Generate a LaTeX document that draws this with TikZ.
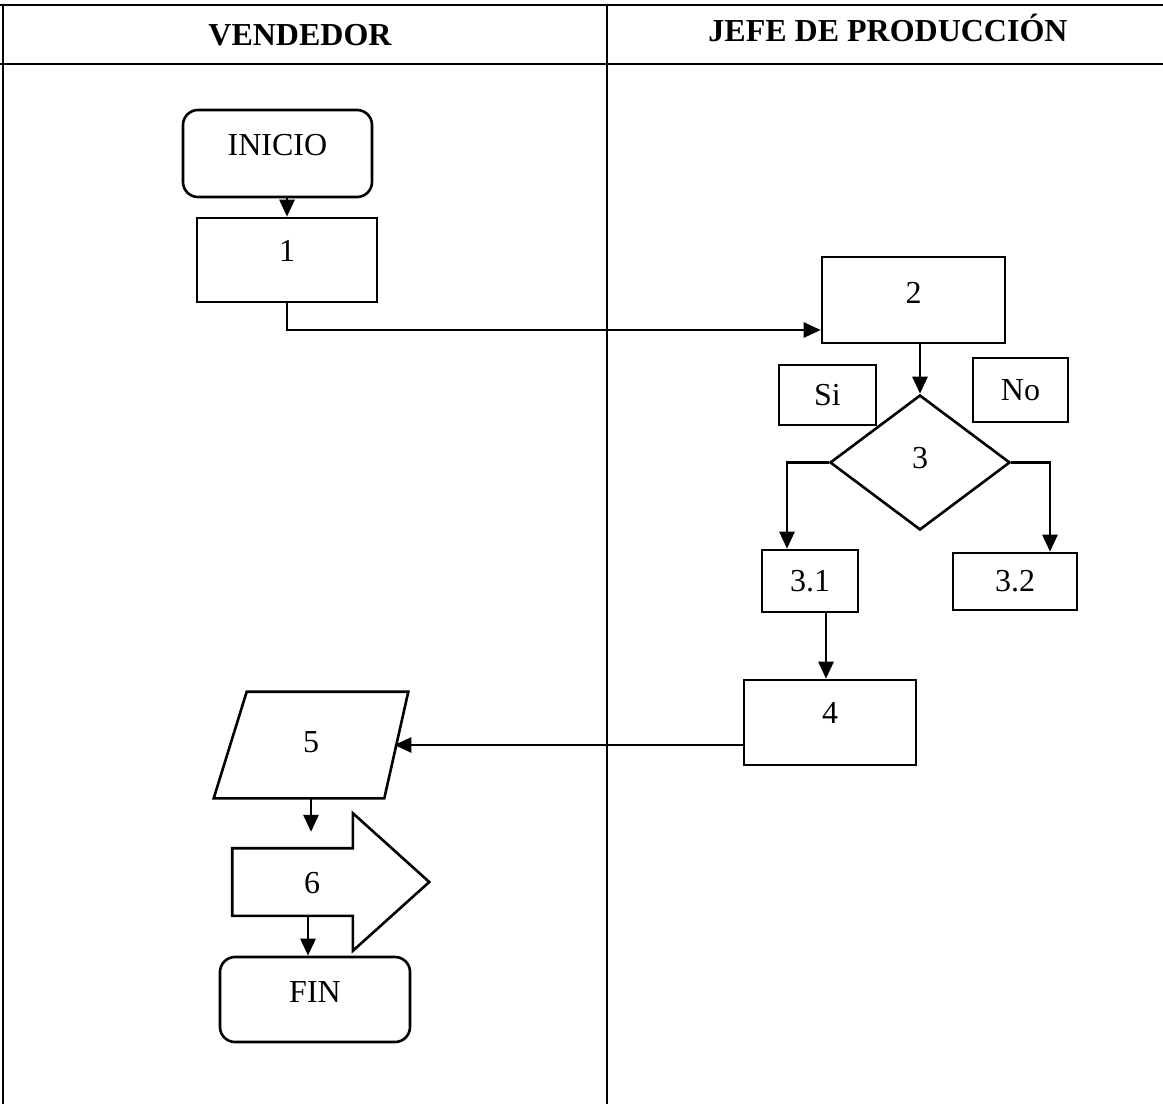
\documentclass[tikz,border=0pt]{standalone}
\usepackage{fontspec}
\setmainfont{Liberation Serif}
\usetikzlibrary{shapes.geometric, shapes.arrows, arrows.meta}

\tikzset{
  caja/.style={draw, rectangle, inner sep=0pt},
  redonda/.style={draw, rectangle, rounded corners=7.5pt, inner sep=0pt},
  flecha/.style={-{Triangle[width=7.5pt,length=8.5pt]}}
}

\begin{document}
\begin{tikzpicture}[x=0.5pt, y=-0.5pt, line width=1.3pt,
    every node/.style={font=\fontsize{16}{19}\selectfont}]

    % Marco del dibujo
    \useasboundingbox (0,0) rectangle (1163,1104);
    \draw (0,5) -- (1163,5);
    \draw (0,64) -- (1163,64);
    \draw (3,5) -- (3,1104);
    \draw (607,5) -- (607,1104);

    % Encabezados
    \node[font=\fontsize{16}{19}\selectfont\bfseries] (vend) at (300,35) {VENDEDOR};
    \node[font=\fontsize{16}{19}\selectfont\bfseries] (jefe) at (888,28) {JEFE DE PRODUCCIÓN};

    % Columna del vendedor
    \node[redonda, minimum width=94.5pt, minimum height=43.5pt, text depth=8.5pt] (inicio) at (277.5,153.5) {INICIO};
    \node[caja, minimum width=90pt, minimum height=42pt, text depth=9pt] (p1) at (287,260) {1};

    % Columna del jefe de produccion
    \node[caja, minimum width=91.5pt, minimum height=43pt, text depth=7pt] (p2) at (913.5,300) {2};
    \node[draw, diamond, inner sep=0pt, minimum width=90pt, minimum height=67.5pt, text depth=5pt] (p3) at (920,462.5) {3};
    \node[caja, minimum width=48.5pt, minimum height=30pt] (si) at (827.5,395) {Si};
    \node[caja, minimum width=47.5pt, minimum height=32pt] (no) at (1020.5,390) {No};
    \node[caja, minimum width=48pt, minimum height=31pt] (p31) at (810,581) {3.1};
    \node[caja, minimum width=62pt, minimum height=28.5pt] (p32) at (1015,581.5) {3.2};
    \node[caja, minimum width=86pt, minimum height=42.5pt, text depth=10pt] (p4) at (830,722.5) {4};

    % Vuelta al vendedor: paralelogramo 5
    \node[inner sep=0pt, minimum width=96pt, minimum height=52pt, text depth=3pt] (p5) at (311,745) {5};
    \draw (p5.south west) -- ([xshift=16.5pt]p5.north west) -- (p5.north east)
          -- ([xshift=-12pt]p5.south east) -- cycle;
    \node[draw, single arrow, single arrow head extend=17.5pt, single arrow tip angle=84,
          text height=11pt, text depth=0pt, inner xsep=2pt, inner ysep=10.75pt,
          minimum height=98.5pt] (p6) at (312,882) {6};
    \node[redonda, minimum width=95pt, minimum height=42.5pt, text depth=7pt] (fin) at (315,999.5) {FIN};

    % Conectores
    \draw[flecha] (p1.north |- inicio.south) -- (p1.north);
    \draw[flecha] (p1.south) |- ([yshift=-15pt]p2.west);
    \draw[flecha] (p3.north |- p2.south) -- (p3.north);
    \draw[flecha] (p3.west) -| ([xshift=-11.5pt]p31.north);
    \draw[flecha] (p3.east) -| ([xshift=17.5pt]p32.north);
    \draw[flecha] ([xshift=8pt]p31.south) -- ([xshift=8pt]p31.south |- p4.north);
    \draw[flecha] (p4.west |- p5.east) -- ([xshift=-7pt]p5.east);
    \draw[flecha, shorten >=7.5pt] (p5.south) -- (p5.south |- p6.north);
    \draw[flecha] ([xshift=-2pt]p6.south) -- ([xshift=-2pt]p6.south |- fin.north);

\end{tikzpicture}
\end{document}
